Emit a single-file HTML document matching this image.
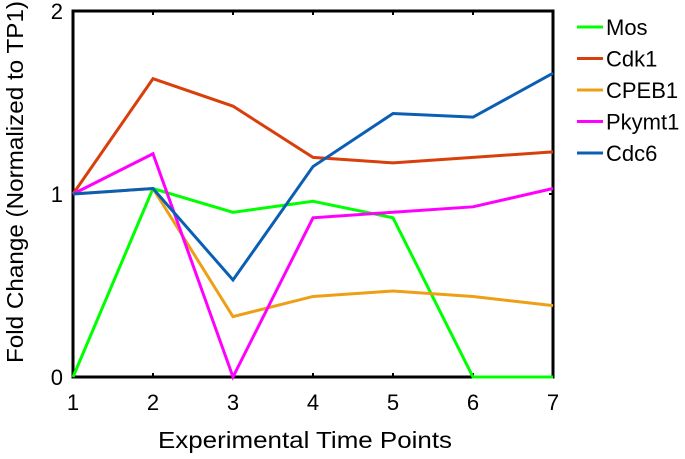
<!DOCTYPE html>
<html><head><meta charset="utf-8"><style>
body{margin:0;background:#fff;}
svg{display:block;font-family:"Liberation Sans",sans-serif;}
</style></head><body>
<svg id="chart" width="685" height="459"></svg>
<script>
const categories=[1,2,3,4,5,6,7];
const yTicks=[0,1,2];
const seriesNames=["Mos","Cdk1","CPEB1","Pkymt1","Cdc6"];
const seriesColors=["#00ff00","#d93f0b","#eda016","#ff00ff","#0a5fb4"];
const mos=[0,1.03,0.90,0.96,0.87,0,0];
const cdk1=[1,1.63,1.48,1.20,1.17,1.20,1.23];
const cpeb1=[1,1.03,0.33,0.44,0.47,0.44,0.39];
const pkymt1=[1,1.22,0,0.87,0.90,0.93,1.03];
const cdc6=[1,1.03,0.53,1.15,1.44,1.42,1.66];
const seriesValues=[mos,cdk1,cpeb1,pkymt1,cdc6];

const NS="http://www.w3.org/2000/svg";
const svg=document.getElementById('chart');
const L=73,R=553,T=11,B=377;
const xs=v=>L+(v-1)/6*(R-L);
const ys=v=>B-v/2*(B-T);
function mk(tag,attrs){const e=document.createElementNS(NS,tag);for(const k in attrs)e.setAttribute(k,attrs[k]);svg.appendChild(e);return e;}

const frame=mk('rect',{x:L,y:T,width:R-L,height:B-T,fill:'none',stroke:'#000','stroke-width':3});



categories.forEach(c=>{
  const x=xs(c);
  mk('line',{x1:x,y1:B,x2:x,y2:B-4,stroke:'#000','stroke-width':2});
  mk('line',{x1:x,y1:T,x2:x,y2:T+4,stroke:'#000','stroke-width':2});
  const t=mk('text',{x:x,y:410,'text-anchor':'middle','font-size':22});
  t.textContent=c;
  
  
});
yTicks.forEach(v=>{
  const y=ys(v);
  mk('line',{x1:L,y1:y,x2:L+4,y2:y,stroke:'#000','stroke-width':2});
  mk('line',{x1:R,y1:y,x2:R-4,y2:y,stroke:'#000','stroke-width':2});
  const t=mk('text',{x:L-10,y:y+8,'text-anchor':'end','font-size':22});
  t.textContent=v;
  
  
});

seriesValues.forEach((vals,i)=>{
  const p=mk('polyline',{points:vals.map((v,j)=>xs(categories[j])+','+ys(v)).join(' '),fill:'none',stroke:seriesColors[i],'stroke-width':3,'stroke-linejoin':'miter'});
  
  
});

const xt=mk('text',{x:305,y:448,'text-anchor':'middle','font-size':23,textLength:294,lengthAdjust:'spacingAndGlyphs'});
xt.textContent='Experimental Time Points';


const yt=mk('text',{x:0,y:0,'text-anchor':'middle','font-size':23,textLength:362,lengthAdjust:'spacingAndGlyphs',transform:'translate(23,182) rotate(-90)'});
yt.textContent='Fold Change (Normalized to TP1)';



seriesNames.forEach((n,i)=>{
  const y=27+i*31.5;
  const l=mk('line',{x1:577,y1:y,x2:603,y2:y,stroke:seriesColors[i],'stroke-width':3});
  
  
  const t=mk('text',{x:606,y:y+8,'font-size':22});
  t.textContent=n;
  
  
});
</script>
</body></html>
